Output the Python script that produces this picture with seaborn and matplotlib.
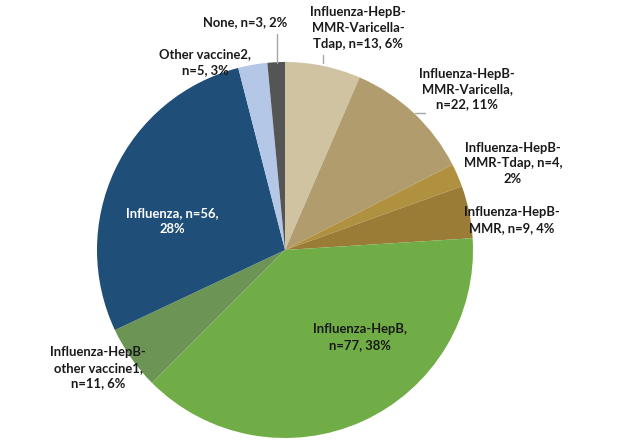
import matplotlib
matplotlib.use("Agg")
import matplotlib.pyplot as plt
import seaborn as sns

sns.set_theme(style="white")
plt.rcParams['font.family'] = ['Lato', 'DejaVu Sans']

categories = ["Influenza-HepB-MMR-Varicella-Tdap", "Influenza-HepB-MMR-Varicella",
              "Influenza-HepB-MMR-Tdap", "Influenza-HepB-MMR", "Influenza-HepB",
              "Influenza-HepB-other vaccine1", "Influenza", "Other vaccine2", "None"]
counts = [13, 22, 4, 9, 77, 11, 56, 5, 3]
percents = [6, 11, 2, 4, 38, 6, 28, 3, 2]
labels = [
    "Influenza-HepB-\nMMR-Varicella-\nTdap, n=13, 6%",
    "Influenza-HepB-\nMMR-Varicella,\nn=22, 11%",
    "Influenza-HepB-\nMMR-Tdap, n=4,\n2%",
    "Influenza-HepB-\nMMR, n=9, 4%",
    "Influenza-HepB,\nn=77, 38%",
    "Influenza-HepB-\nother vaccine1,\nn=11, 6%",
    "Influenza, n=56,\n28%",
    "Other vaccine2,\nn=5, 3%",
    "None, n=3, 2%",
]
colors = ["#D0C3A2", "#B09C6C", "#B0913F", "#9B7C36", "#70AD47",
          "#6C9555", "#1F4E79", "#B4C7E7", "#555555"]

W, H = 620, 444
cx, cy, R = 285, 250, 188
fig = plt.figure(figsize=(W / 100, H / 100), dpi=100)
ax = fig.add_axes([(cx - R) / W, (H - cy - R) / H, 2 * R / W, 2 * R / H])
ax.pie(counts, colors=colors, startangle=90, counterclock=False,
       wedgeprops=dict(linewidth=0), radius=1.0)
ax.set_xlim(-1, 1)
ax.set_ylim(-1, 1)
ax.set_aspect("equal")
ax.axis("off")


def to_data(px, py):
    return (px - cx) / R, (cy - py) / R


# label positions in pixel space (layout only)
pos = [(358, 28), (467, 89), (513, 163), (512, 220), (360, 337),
       (98, 368), (172, 221), (205, 62), (245, 22)]
for lab, (px, py), col in zip(labels, pos, colors):
    x, y = to_data(px, py)
    tc = "white" if col == "#1F4E79" else "#1a1a1a"
    ax.text(x, y, lab, ha="center", va="center", fontsize=9.4,
            fontweight="bold", color=tc, linespacing=1.35, clip_on=False)

# leader lines
leaders = [((277, 34), (277, 63)), ((323, 55), (323, 63)), ((415, 113), (425, 113))]
for (p1, p2) in leaders:
    x1, y1 = to_data(*p1)
    x2, y2 = to_data(*p2)
    ax.plot([x1, x2], [y1, y2], color="#A6A6A6", lw=1, clip_on=False)

fig.savefig("out.png", dpi=100)
